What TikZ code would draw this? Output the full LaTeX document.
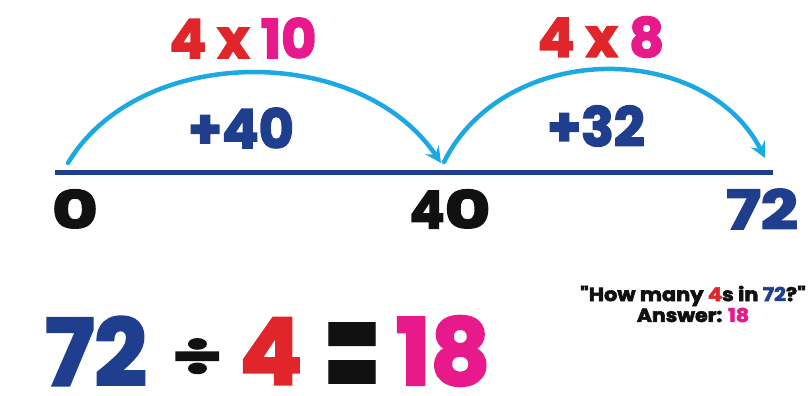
\documentclass[tikz,border=0pt]{standalone}
\usepackage{fontspec}
\setmainfont{Poppins}
\newfontfamily\heavy{Poppins}[FakeBold=3]
\newfontfamily\midheavy{Poppins}[FakeBold=1]
\usetikzlibrary{arrows.meta}
\definecolor{dblue}{HTML}{1F3E8E}
\definecolor{lblue}{HTML}{1CA9E2}
\definecolor{nred}{HTML}{E1262B}
\definecolor{npink}{HTML}{E8198B}
\definecolor{nblack}{HTML}{111111}
\tikzset{
  lbl/.style={inner sep=0pt, anchor=center},
  arcline/.style={draw=lblue, line width=4.5pt, line cap=round, -{Stealth[length=16pt,width=16pt,inset=6pt]}},
  numline/.style={draw=dblue, line width=5pt}
}
\newcommand{\hv}[1]{\fontsize{#1}{#1}\selectfont\heavy\bfseries}
\newcommand{\mhv}[1]{\fontsize{#1}{#1}\selectfont\midheavy\bfseries}
\begin{document}
\begin{tikzpicture}[x=1pt,y=-1pt]
\useasboundingbox (0,0) rectangle (809,396);
% number line
\coordinate (L) at (55,172);
\coordinate (R) at (773,172);
\draw[numline] (L) -- (R);
% arcs
\coordinate (p0) at (68,163);
\coordinate (p40) at (441,163);
\coordinate (q40) at (444,162);
\coordinate (p72) at (765,158);
\draw[arcline] (p0) .. controls (140,43) and (360,43) .. (p40);
\draw[arcline] (q40) .. controls (505,40) and (705,40) .. (p72);
% labels above arcs
\node[lbl, font=\hv{54}] (m1) at (243,38) {\textcolor{nred}{4 x }\textcolor{npink}{10}};
\node[lbl, font=\hv{54}] (m2) at (601,37) {\textcolor{nred}{4 x }\textcolor{npink}{8}};
\node[lbl, font=\hv{54}, text=dblue] (a1) at (241,128) {+40};
\node[lbl, font=\hv{54}, text=dblue] (a2) at (596,126) {+32};
% number labels
\node[lbl, font=\hv{52}, text=nblack] (n0) at (75,209) {\scalebox{1.35}[1]{0}};
\node[lbl, font=\hv{52}, text=nblack] (n40) at (450,209) {4\scalebox{1.35}[1]{0}};
\node[lbl, font=\hv{54}, text=dblue] (n72) at (762,209) {\scalebox{1.2}[1]{72}};
% equation
\node[lbl, font=\hv{92}, text=dblue] (e72) at (96,351) {72};
\node[lbl, font=\hv{54}, text=nblack] (ediv) at (197,357) {\scalebox{1.5}[1]{÷}};
\node[lbl, font=\hv{92}, text=nred] (e4) at (271,351) {4};
\node[lbl, font=\mhv{110}, text=nblack] (eeq) at (352,364) {\scalebox{0.75}[1.35]{=}};
\node[lbl, font=\hv{92}, text=npink] (e18) at (443,351) {18};
% question
\node[lbl, font=\hv{19}, text=nblack] (q1) at (693,296) {\scalebox{1.1}[1]{"How many \textcolor{nred}{4}s in \textcolor{dblue}{72}?"}};
\node[lbl, font=\hv{19}, text=nblack] (q2) at (693,315) {\scalebox{1.08}[1]{Answer: \textcolor{npink}{18}}};
\end{tikzpicture}
\end{document}
